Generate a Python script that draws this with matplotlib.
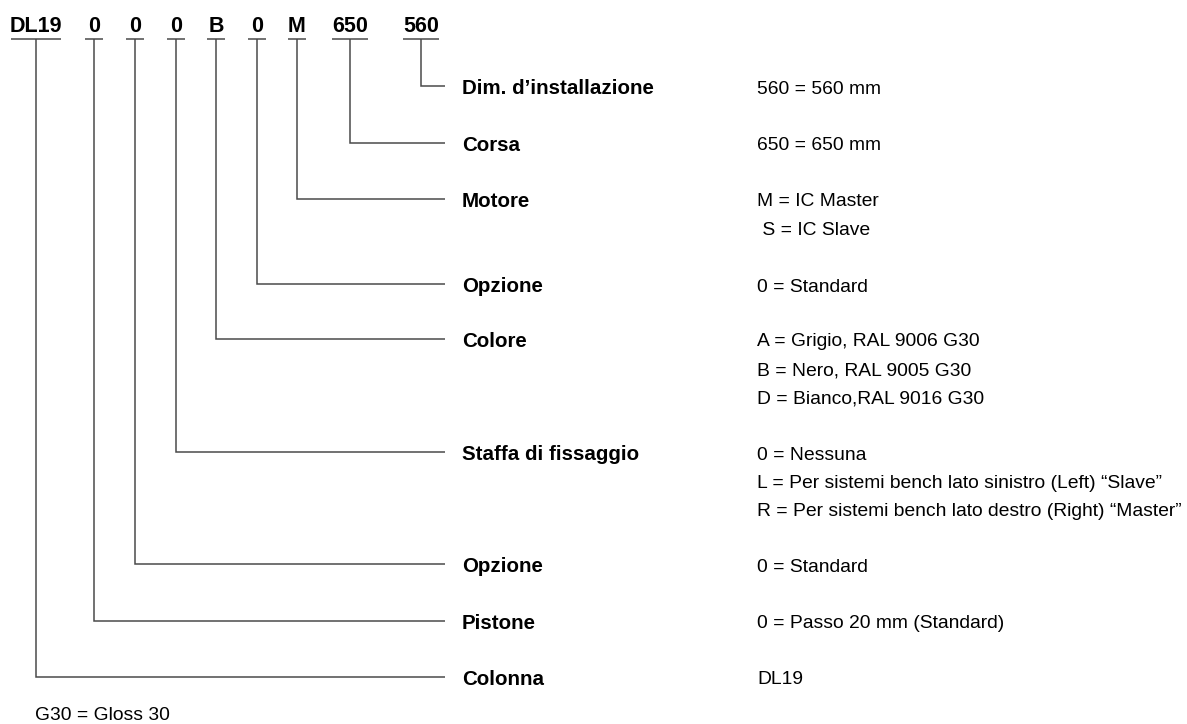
import matplotlib.pyplot as plt

W, H = 1187, 724
DPI = 100

# type code segments (top row)
codes = ['DL19', '0', '0', '0', 'B', '0', 'M', '650', '560']
code_x = [36, 94, 135, 176, 216, 257, 297, 350, 421]
code_half = [25, 9, 9, 9, 9, 9, 9, 18, 18]

# rows, listed from top to bottom, each tied to one code segment
labels = ['Dim. d\u2019installazione', 'Corsa', 'Motore', 'Opzione', 'Colore',
          'Staffa di fissaggio', 'Opzione', 'Pistone', 'Colonna']
values = [
    ['560 = 560 mm'],
    ['650 = 650 mm'],
    ['M = IC Master', ' S = IC Slave'],
    ['0 = Standard'],
    ['A = Grigio, RAL 9006 G30', 'B = Nero, RAL 9005 G30', 'D = Bianco,RAL 9016 G30'],
    ['0 = Nessuna',
     'L = Per sistemi bench lato sinistro (Left) \u201cSlave\u201d',
     'R = Per sistemi bench lato destro (Right) \u201cMaster\u201d'],
    ['0 = Standard'],
    ['0 = Passo 20 mm (Standard)'],
    ['DL19'],
]
row_code = [8, 7, 6, 5, 4, 3, 2, 1, 0]
row_y = [86, 143, 199, 284, 339, 452, 564, 621, 677]
footnote = 'G30 = Gloss 30'

plt.rcParams['font.family'] = ['Liberation Sans', 'DejaVu Sans']

FS_CODE = 15.5
FS_LABEL = 14.8
FS_VALUE = 13.9
LINE = '#4a4a4a'
LW = 1.1

fig = plt.figure(figsize=(W / DPI, H / DPI), dpi=DPI)
ax = fig.add_axes([0, 0, 1, 1])
ax.set_xlim(0, W)
ax.set_ylim(H, 0)
ax.axis('off')

UNDER_Y = 39
for c, x, hw in zip(codes, code_x, code_half):
    ax.text(x, 32, c, ha='center', va='baseline', fontsize=FS_CODE, fontweight='bold', color='black')
    ax.plot([x - hw, x + hw], [UNDER_Y, UNDER_Y], color=LINE, lw=LW, solid_capstyle='butt')

LINE_END = 445
LABEL_X = 462
VALUE_X = 757
for lab, vals, ci, y in zip(labels, values, row_code, row_y):
    x = code_x[ci]
    ax.plot([x, x, LINE_END], [UNDER_Y, y, y], color=LINE, lw=LW,
            solid_joinstyle='miter', solid_capstyle='butt')
    ax.text(LABEL_X, y + 8, lab, ha='left', va='baseline', fontsize=FS_LABEL,
            fontweight='bold', color='black')
    for i, v in enumerate(vals):
        ax.text(VALUE_X, y + 7.5 + i * 28.5, v, ha='left', va='baseline', fontsize=FS_VALUE,
                color='black')

ax.text(35, 720, footnote, ha='left', va='baseline', fontsize=FS_VALUE, color='black')

fig.savefig('out.png', dpi=DPI, facecolor='white')
